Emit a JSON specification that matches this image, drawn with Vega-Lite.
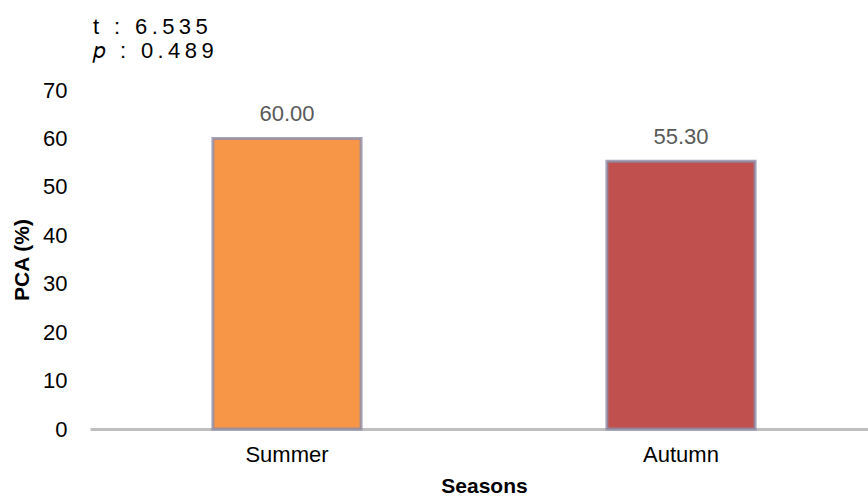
{
  "$schema": "https://vega.github.io/schema/vega-lite/v6.json",
  "autosize": {"type": "none"},
  "width": 788,
  "height": 339,
  "padding": {"left": 90, "top": 90, "right": 0, "bottom": 70},
  "background": "white",
  "config": {
    "view": {"stroke": null},
    "font": "Liberation Sans"
  },
  "title": {
    "text": "t\u2009 \u2009:\u2009 \u20096\u2009.\u20095\u20093\u20095",
    "subtitle": "\ud835\udc5d\u2009 \u2009:\u2009 \u20090\u2009.\u20094\u20098\u20099",
    "anchor": "start",
    "frame": "group",
    "fontSize": 22,
    "fontWeight": "normal",
    "color": "#000000",
    "subtitleFontSize": 22,
    "subtitleColor": "#000000",
    "subtitlePadding": 2,
    "offset": 16,
    "dx": 3
  },
  "data": {
    "values": [
      {"season": "Summer", "pca": 60.0},
      {"season": "Autumn", "pca": 55.3}
    ]
  },
  "encoding": {
    "x": {
      "field": "season",
      "type": "nominal",
      "sort": ["Summer", "Autumn"],
      "scale": {"paddingInner": 0.624, "paddingOuter": 0.312},
      "axis": {
        "title": "Seasons",
        "titleFontSize": 21,
        "titleFontWeight": "bold",
        "titleColor": "#000000",
        "titlePadding": 10,
        "labelAngle": 0,
        "labelFontSize": 22,
        "labelColor": "#000000",
        "labelPadding": 15,
        "ticks": false,
        "domainColor": "#bfbfbf",
        "domainWidth": 3,
        "grid": false
      }
    },
    "y": {
      "field": "pca",
      "type": "quantitative",
      "scale": {"domain": [0, 70]},
      "axis": {
        "title": "PCA (%)",
        "titleFontSize": 21,
        "titleFontWeight": "bold",
        "titleColor": "#000000",
        "titlePadding": 10,
        "values": [0, 10, 20, 30, 40, 50, 60, 70],
        "labelFontSize": 22,
        "labelColor": "#000000",
        "labelPadding": 23,
        "ticks": false,
        "domain": false,
        "grid": false
      }
    }
  },
  "layer": [
    {
      "mark": {
        "type": "bar",
        "stroke": "#8c8ca8",
        "strokeWidth": 3,
        "strokeOpacity": 0.8
      },
      "encoding": {
        "color": {
          "field": "season",
          "type": "nominal",
          "scale": {"domain": ["Summer", "Autumn"], "range": ["#f79646", "#c0504d"]},
          "legend": null
        }
      }
    },
    {
      "mark": {
        "type": "text",
        "baseline": "alphabetic",
        "dy": -17,
        "fontSize": 22,
        "color": "#595959"
      },
      "encoding": {
        "text": {"field": "pca", "type": "quantitative", "format": ".2f"}
      }
    }
  ]
}
